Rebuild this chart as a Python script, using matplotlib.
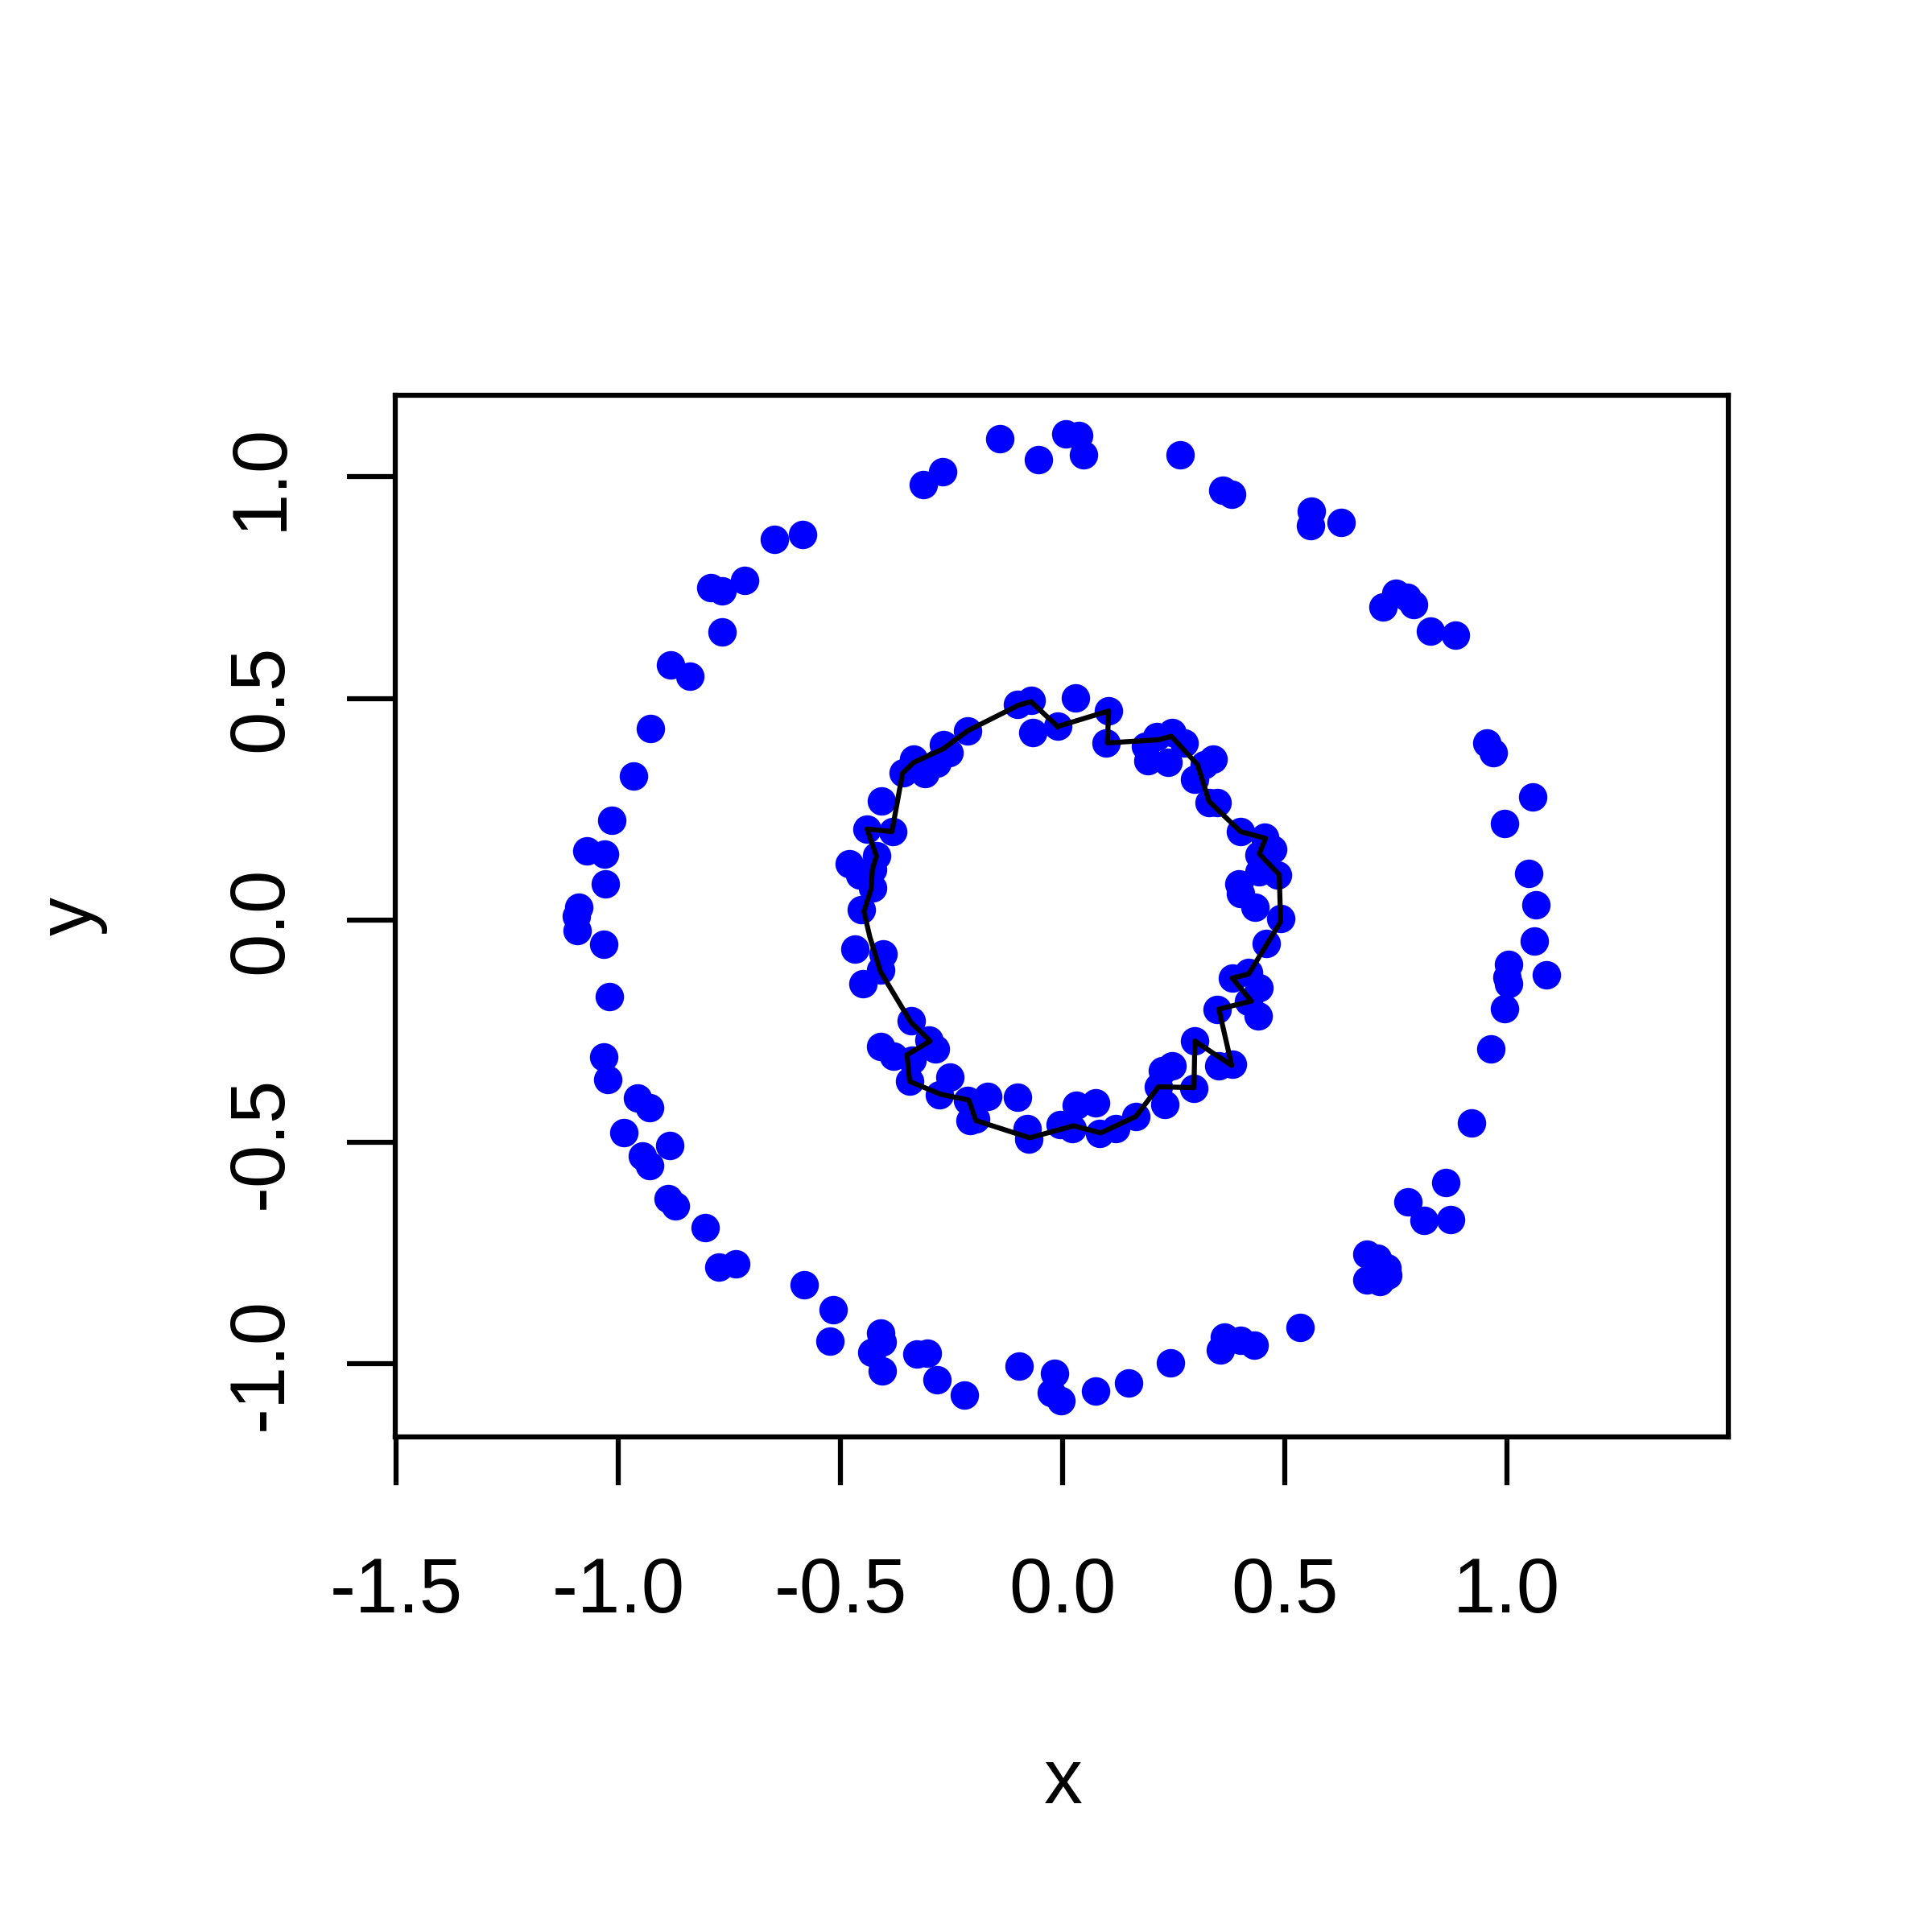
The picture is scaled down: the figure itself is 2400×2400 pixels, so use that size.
import numpy as np
import matplotlib
matplotlib.use("Agg")
import matplotlib.pyplot as plt

plt.rcParams["font.family"] = ["Liberation Sans", "DejaVu Sans"]

# outer ring points
outer_x = [-0.142, 0.008, 0.036, -0.055, 0.047, 0.264, -0.314, -0.269, 0.361, 0.380, 0.560, 0.558, 0.627, -0.649, -0.585,
           0.721, 0.751, 0.776, 0.791, 0.828, 0.884,
           -0.791, -0.766, -0.716, -0.766, -0.882, -0.838, -0.927,
           -0.965, -1.015, -1.071, -1.031, -1.029, -1.088, -1.094, -1.092, -1.033, -1.020,
           0.955, 0.970, 1.058, 0.995, 1.049, 1.065, 1.062, 1.004, 1.000, 1.005, 1.090, 0.996, 0.964,
           -1.032, -1.024, -0.957, -0.930, -0.988, -0.946, -0.930, -0.885, -0.888, -0.871, -0.805, -0.774, -0.735,
           0.921,
           0.863, 0.778, 0.814, 0.873, 0.685, 0.709, 0.730, 0.733, 0.685, 0.715,
           -0.581, -0.517, -0.524, -0.410, -0.405, -0.430, -0.405, -0.327, -0.304, -0.283, -0.221,
           -0.098, -0.017, -0.026, -0.004, 0.075, 0.149, 0.243, 0.364, 0.355, 0.401, 0.431, 0.534]
outer_y = [1.086, 1.097, 1.092, 1.039, 1.050, 1.050, 0.983, 1.011, 0.969, 0.961, 0.922, 0.889, 0.897, 0.858, 0.869,
           0.707, 0.738, 0.729, 0.711, 0.652, 0.643,
           0.750, 0.742, 0.767, 0.650, 0.575, 0.550, 0.433,
           0.325, 0.225, 0.156, 0.150, 0.082, 0.030, 0.009, -0.023, -0.053, -0.172,
           0.400, 0.378, 0.278, 0.218, 0.105, 0.035, -0.047, -0.100, -0.128, -0.143, -0.122, -0.199, -0.289,
           -0.308, -0.358, -0.400, -0.422, -0.478, -0.531, -0.553, -0.508, -0.628, -0.644, -0.692, -0.781, -0.775,
           -0.456,
           -0.590, -0.635, -0.676, -0.675, -0.753, -0.762, -0.783, -0.799, -0.811, -0.814,
           -0.822, -0.877, -0.949, -0.931, -0.951, -0.973, -1.015, -0.978, -0.976, -1.036, -1.069,
           -1.004, -1.021, -1.064, -1.083, -1.061, -1.043, -0.997, -0.939, -0.969, -0.947, -0.958, -0.917]

# inner ring points
inner_x = [-0.102, -0.071, -0.067, -0.011, -0.214, -0.268, -0.256, -0.283, -0.310, -0.335, -0.359, -0.407,
           -0.440, -0.383, -0.419, -0.428, -0.480, -0.456, -0.428, -0.452,
           0.029, 0.104, 0.098, 0.186, 0.213, 0.246, 0.273, 0.192, 0.237, 0.340, 0.319, 0.298, 0.330, 0.349,
           0.401, 0.455, 0.473, 0.443, 0.485, 0.443, 0.397, 0.400, 0.434, 0.491,
           -0.468, -0.404, -0.410, -0.450, -0.341, -0.301, -0.286, -0.410, -0.380, -0.338, -0.344, -0.253,
           -0.277, -0.214, -0.168, -0.102, -0.208, -0.195, -0.080, -0.075, -0.005,
           0.458, 0.382, 0.419, 0.443, 0.419, 0.440, 0.349, 0.298, 0.352, 0.382, 0.246, 0.225, 0.216, 0.231,
           0.295, 0.165, 0.119, 0.074, 0.031, 0.083, 0.022]
inner_y = [0.487, 0.496, 0.423, 0.438, 0.427, 0.396, 0.378, 0.354, 0.330, 0.363, 0.333, 0.269,
           0.206, 0.200, 0.145, 0.115, 0.127, 0.103, 0.073, 0.024,
           0.502, 0.472, 0.399, 0.393, 0.414, 0.423, 0.399, 0.360, 0.357, 0.363, 0.351, 0.318, 0.266, 0.266,
           0.200, 0.187, 0.160, 0.148, 0.103, 0.109, 0.082, 0.060, 0.030, 0.005,
           -0.064, -0.076, -0.112, -0.142, -0.227, -0.269, -0.290, -0.284, -0.306, -0.315, -0.363, -0.354,
           -0.393, -0.405, -0.396, -0.399, -0.451, -0.448, -0.469, -0.493, -0.460,
           -0.052, -0.130, -0.118, -0.151, -0.182, -0.215, -0.200, -0.272, -0.327, -0.324, -0.327, -0.339,
           -0.375, -0.415, -0.378, -0.442, -0.469, -0.411, -0.417, -0.481, -0.469]

# boundary path around the inner ring
bound_x = [-0.011, -0.071, -0.099, -0.214, -0.268, -0.335, -0.360, -0.384, -0.440, -0.419, -0.428, -0.431,
           -0.447, -0.434, -0.419, -0.410, -0.341, -0.298, -0.350, -0.344, -0.274, -0.211, -0.195, -0.074,
           0.025, 0.086, 0.165, 0.216, 0.296, 0.298, 0.381, 0.352, 0.425, 0.382, 0.419, 0.491,
           0.488, 0.443, 0.457, 0.401, 0.330, 0.304, 0.245, 0.216, 0.101, 0.104, -0.011]
bound_y = [0.437, 0.493, 0.485, 0.427, 0.387, 0.356, 0.332, 0.200, 0.206, 0.145, 0.115, 0.070,
           0.020, -0.036, -0.085, -0.115, -0.230, -0.272, -0.303, -0.363, -0.392, -0.405, -0.451, -0.490,
           -0.463, -0.479, -0.442, -0.375, -0.377, -0.272, -0.327, -0.200, -0.182, -0.130, -0.121, -0.003,
           0.103, 0.150, 0.185, 0.200, 0.268, 0.351, 0.415, 0.407, 0.400, 0.472, 0.437]

xticks = [-1.5, -1.0, -0.5, 0.0, 0.5, 1.0]
yticks = [-1.0, -0.5, 0.0, 0.5, 1.0]

fig = plt.figure(figsize=[8, 8], dpi=300)
ax = fig.add_axes([0.2046, 0.2563, 0.69, 0.539])

ax.plot(outer_x, outer_y, "o", color="#0000ff", markersize=8.5, markeredgewidth=0)
ax.plot(inner_x, inner_y, "o", color="#0000ff", markersize=8.5, markeredgewidth=0)
ax.plot(bound_x, bound_y, "k-", linewidth=1.5)

ax.set_xlim([-1.502, 1.499])
ax.set_ylim([-1.164, 1.183])

for s in ax.spines.values():
    s.set_linewidth(1.5)

ax.set_xticks(xticks)
ax.set_xticklabels(["%.1f" % v for v in xticks], fontsize=23)
ax.set_yticks(yticks)
ax.set_yticklabels(["%.1f" % v for v in yticks], fontsize=23, rotation=90, va="center")
ax.tick_params(axis="x", direction="out", length=14.5, width=1.5, pad=21)
ax.tick_params(axis="y", direction="out", length=14.5, width=1.5, pad=14.5)

fig.text(0.5504, 0.0771, "x", fontsize=23, ha="center", va="center")
fig.text(0.037, 0.5258, "y", fontsize=23, ha="center", va="center", rotation=90)

plt.savefig("out.png")
plt.close()
